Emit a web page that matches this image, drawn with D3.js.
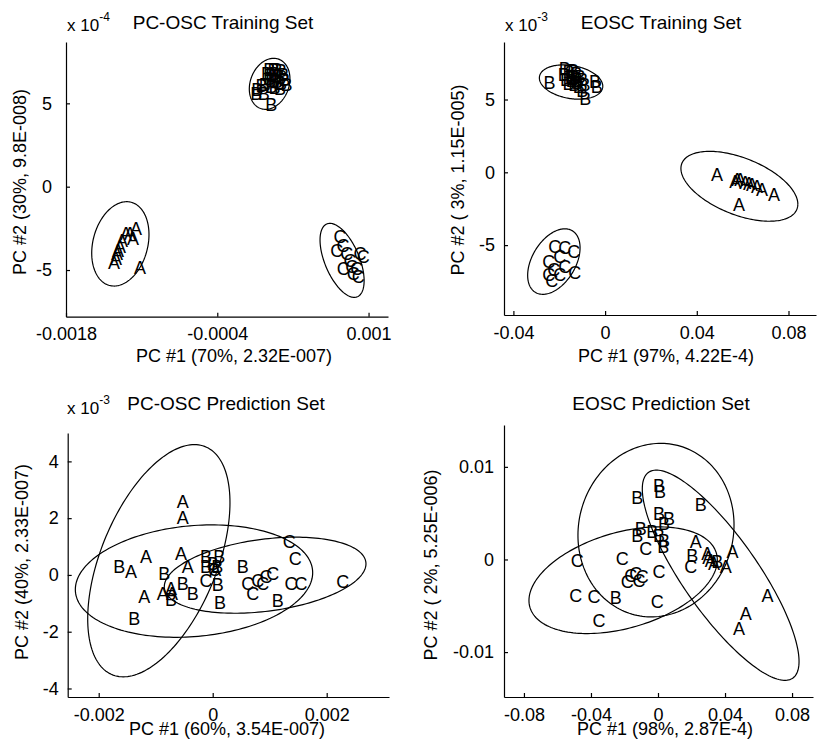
<!DOCTYPE html>
<html>
<head>
<meta charset="utf-8">
<script src="https://cdnjs.cloudflare.com/ajax/libs/d3/7.8.5/d3.min.js"></script>
<style>
  body { margin: 0; background: #fff; }
  svg { display: block; font-family: "Liberation Sans", Arial, Helvetica, sans-serif; }
  .axis path, .axis line { stroke: #000; stroke-width: 1.2; }
  .axis text { font-size: 18px; fill: #000; font-family: "Liberation Sans", Arial, sans-serif; }
  .ellipse { fill: none; stroke: #000; stroke-width: 1.2; }
  .mark { font-size: 18px; fill: #000; }
  .title { font-size: 19px; fill: #000; }
  .label { font-size: 18px; fill: #000; }
</style>
</head>
<body>
<div class="container"></div>
<script>
const WIDTH = 817,
      HEIGHT = 750;

// ---- PC-OSC training set (y shown as x 10^-4)
var pcTrainA = [[-0.001152,-2.48],[-0.001208,-2.78],[-0.001245,-2.78],[-0.00118,-3.08],[-0.001282,-3.2],
  [-0.0013,-3.56],[-0.001319,-3.8],[-0.001328,-3.98],[-0.001337,-4.28],[-0.001356,-4.52],[-0.001115,-4.82]];
var pcTrainB = [[0.00008,7.05],[0.00012,7.05],[0.00015,7.0],[0.00019,6.95],[0.00006,6.8],[0.0001,6.75],
  [0.00013,6.8],[0.00017,6.65],[0.00021,6.7],[0.00022,6.4],[0.00008,6.5],[0.00012,6.35],[0.00015,6.3],
  [0.00019,6.2],[0.00004,6.1],[0.0001,6.0],[0.00013,5.95],[0.00018,5.9],[-0.00003,5.8],[0.00001,6.05],
  [0.00003,5.6],[-0.00004,5.6],[0.0001,4.95],[0.00024,6.15]];
var pcTrainC = [[0.000736,-3.0],[0.000705,-3.8],[0.000764,-3.5],[0.000798,-4.0],[0.000921,-4.0],[0.000828,-4.4],
  [0.000766,-4.9],[0.000859,-5.2],[0.00089,-4.9],[0.000905,-5.4],[0.000844,-4.8],[0.000952,-4.2]];
var pcTrainEllipses = [
  {cx: -0.001297, cy: -3.43, rx: 0.000265, ry: 2.53, rho: 0.22},
  {cx: 0.0000845, cy: 6.17, rx: 0.000188, ry: 1.53, rho: 0.2},
  {cx: 0.000755, cy: -4.42, rx: 0.000204, ry: 2.22, rho: -0.55}
];
var pcTrainXLim = [-0.0018, 0.00118], pcTrainYLim = [-7.8, 8.68];
var pcTrainXTicks = [-0.0018, -0.0004, 0.001], pcTrainXLabels = ['-0.0018', '-0.0004', '0.001'];
var pcTrainYTicks = [-5, 0, 5], pcTrainYLabels = ['-5', '0', '5'];

// ---- EOSC training set (y shown as x 10^-3)
var eoscTrainA = [[0.0488,-0.16],[0.0568,-0.64],[0.059,-0.5],[0.0611,-0.71],[0.0641,-0.84],[0.0663,-0.98],
  [0.0685,-1.16],[0.0737,-1.53],[0.0584,-2.21],[0.0576,-0.5],[0.0628,-0.77]];
var eoscTrainB = [[-0.0242,6.2],[-0.0176,7.15],[-0.016,6.9],[-0.014,7.0],[-0.0125,6.8],[-0.015,6.6],[-0.013,6.5],
  [-0.011,6.6],[-0.017,6.4],[-0.0145,6.3],[-0.012,6.2],[-0.01,6.35],[-0.016,6.1],[-0.0135,6.0],[-0.0115,5.9],
  [-0.009,6.0],[-0.0044,6.23],[-0.0036,5.89],[-0.0087,5.1],[-0.01,5.6],[-0.018,6.7]];
var eoscTrainC = [[-0.022,-5.09],[-0.0176,-5.16],[-0.0137,-5.43],[-0.0246,-6.1],[-0.0198,-5.77],[-0.0176,-6.46],
  [-0.0132,-6.87],[-0.0198,-6.99],[-0.0246,-6.99],[-0.0224,-6.66],[-0.0233,-7.42]];
var eoscTrainEllipses = [
  {cx: 0.05858, cy: -0.96, rx: 0.0255, ry: 2.4, rho: -0.51},
  {cx: -0.01484, cy: 6.2, rx: 0.01383, ry: 1.18, rho: -0.24},
  {cx: -0.02235, cy: -6.13, rx: 0.01143, ry: 2.25, rho: 0.42}
];
var eoscTrainXLim = [-0.0441, 0.092], eoscTrainYLim = [-9.8, 8.95];
var eoscTrainXTicks = [-0.04, 0, 0.04, 0.08], eoscTrainXLabels = ['-0.04', '0', '0.04', '0.08'];
var eoscTrainYTicks = [-5, 0, 5], eoscTrainYLabels = ['-5', '0', '5'];

// ---- PC-OSC prediction set (y shown as x 10^-3)
var pcPredA = [[-0.000526,2.59],[-0.000526,2.04],[-0.00117,0.65],[-0.000556,0.77],[-0.001433,0.12],
  [-0.000438,0.29],[-0.0012,-0.77],[-0.000877,-0.65],[-0.000731,-0.47],[-0.000714,-0.65],[0.000046,0.18]];
var pcPredB = [[-0.001638,0.29],[-0.000849,0.06],[-0.000526,-0.29],[-0.000351,-0.65],[-0.000731,-0.88],
  [-0.001375,-1.53],[-0.000118,0.65],[0.000116,0.65],[-0.000118,0.29],[0,0.41],[0.000088,-0.35],
  [0.000128,-0.98],[0.000526,0.29],[0.00114,-0.91],[0.00008,0.3]];
var pcPredC = [[-0.000118,-0.18],[0.000028,0.18],[0.000614,-0.29],[0.000702,-0.65],[0.00079,-0.18],
  [0.000877,-0.29],[0.000935,-0.06],[0.001052,0.06],[0.001344,1.18],[0.001449,0.59],[0.001373,-0.32],
  [0.001549,-0.32],[0.00228,-0.24]];
var pcPredEllipses = [
  {cx: -0.000945, cy: 0.5, rx: 0.001248, ry: 4.09, rho: 0.5},
  {cx: -0.000328, cy: -0.217, rx: 0.002082, ry: 1.98, rho: 0.15},
  {cx: 0.00092, cy: -0.01, rx: 0.001769, ry: 1.34, rho: 0.3}
];
var pcPredXLim = [-0.002544, 0.003093], pcPredYLim = [-4.3, 5.0];
var pcPredXTicks = [-0.002, 0, 0.002], pcPredXLabels = ['-0.002', '0', '0.002'];
var pcPredYTicks = [-4, -2, 0, 2, 4], pcPredYLabels = ['-4', '-2', '0', '2', '4'];

// ---- EOSC prediction set
var eoscPredA = [[0.0225,0.0019],[0.0294,0.00065],[0.0315,-0.00008],[0.0334,-0.00043],[0.0404,-0.0008],
  [0.0444,0.00082],[0.0653,-0.00386],[0.0524,-0.00584],[0.0484,-0.00746],[0.03,0.0002]];
var eoscPredB = [[0.0006,0.00803],[0.0012,0.00731],[-0.01236,0.00666],[0.0255,0.00595],[0.0006,0.00497],
  [0.0066,0.00443],[0.0036,0.00389],[-0.0103,0.00335],[-0.0124,0.00263],[-0.0034,0.00298],[0.0006,0.00263],
  [0.0036,0.00209],[0.0032,0.00136],[0.0205,0.00046],[-0.02525,-0.00415],[0.0354,-0.00026]];
var eoscPredC = [[-0.0482,-0.00008],[-0.0213,0.0001],[-0.0073,0.00119],[-0.0133,-0.00151],[-0.0113,-0.00224],
  [-0.0183,-0.00242],[-0.0163,-0.0017],[0.0006,-0.00134],[0.0195,-0.0008],[-0.0491,-0.00386],
  [-0.0382,-0.00404],[-0.0352,-0.00656],[-0.0004,-0.00458],[-0.0094,-0.00188]];
var eoscPredEllipses = [
  {cx: 0.0374, cy: -0.0017, rx: 0.04677, ry: 0.01135, rho: -0.82},
  {cx: -0.0012, cy: 0.00317, rx: 0.04657, ry: 0.00937, rho: 0.06},
  {cx: -0.0208, cy: -0.00224, rx: 0.0562, ry: 0.00576, rho: 0.38}
];
var eoscPredXLim = [-0.0919, 0.0925], eoscPredYLim = [-0.01485, 0.01452];
var eoscPredXTicks = [-0.08, -0.04, 0, 0.04, 0.08], eoscPredXLabels = ['-0.08', '-0.04', '0', '0.04', '0.08'];
var eoscPredYTicks = [-0.01, 0, 0.01], eoscPredYLabels = ['-0.01', '0', '0.01'];

var panels = [
  { title: 'PC-OSC Training Set', exp: '-4', xlabel: 'PC #1 (70%, 2.32E-007)', ylabel: 'PC #2 (30%, 9.8E-008)',
    A: pcTrainA, B: pcTrainB, C: pcTrainC, ellipses: pcTrainEllipses,
    xLim: pcTrainXLim, yLim: pcTrainYLim, xTicks: pcTrainXTicks, xLabels: pcTrainXLabels, yTicks: pcTrainYTicks, yLabels: pcTrainYLabels,
    box: [66, 388, 42, 316.7], titleX: 223, titleY: 29, expX: 67, expY: 31, xlabX: 234, xlabY: 362, ylabX: 26, ylabY: 182, yPad: 14 },
  { title: 'EOSC Training Set', exp: '-3', xlabel: 'PC #1 (97%, 4.22E-4)', ylabel: 'PC #2 ( 3%, 1.15E-005)',
    A: eoscTrainA, B: eoscTrainB, C: eoscTrainC, ellipses: eoscTrainEllipses,
    xLim: eoscTrainXLim, yLim: eoscTrainYLim, xTicks: eoscTrainXTicks, xLabels: eoscTrainXLabels, yTicks: eoscTrainYTicks, yLabels: eoscTrainYLabels,
    box: [504, 816, 42, 315], titleX: 661, titleY: 29, expX: 505, expY: 31, xlabX: 666, xlabY: 362, ylabX: 464, ylabY: 180, yPad: 9 },
  { title: 'PC-OSC Prediction Set', exp: '-3', xlabel: 'PC #1 (60%, 3.54E-007)', ylabel: 'PC #2 (40%, 2.33E-007)',
    A: pcPredA, B: pcPredB, C: pcPredC, ellipses: pcPredEllipses,
    xLim: pcPredXLim, yLim: pcPredYLim, xTicks: pcPredXTicks, xLabels: pcPredXLabels, yTicks: pcPredYTicks, yLabels: pcPredYLabels,
    box: [67.7, 389, 433, 697], titleX: 226, titleY: 410, expX: 67, expY: 414, xlabX: 227, xlabY: 735, ylabX: 28, ylabY: 562, yPad: 9 },
  { title: 'EOSC Prediction Set', exp: null, xlabel: 'PC #1 (98%, 2.87E-4)', ylabel: 'PC #2 ( 2%, 5.25E-006)',
    A: eoscPredA, B: eoscPredB, C: eoscPredC, ellipses: eoscPredEllipses,
    xLim: eoscPredXLim, yLim: eoscPredYLim, xTicks: eoscPredXTicks, xLabels: eoscPredXLabels, yTicks: eoscPredYTicks, yLabels: eoscPredYLabels,
    box: [504, 813, 425, 697], titleX: 661, titleY: 410, expX: 0, expY: 0, xlabX: 665, xlabY: 735, ylabX: 437, ylabY: 565, yPad: 10 }
];

var svg = d3.select('.container').append('svg').attr('width', WIDTH).attr('height', HEIGHT);

panels.forEach(function(p) {
  var x = d3.scaleLinear().domain(p.xLim).range([p.box[0], p.box[1]]);
  var y = d3.scaleLinear().domain(p.yLim).range([p.box[3], p.box[2]]);
  var g = svg.append('g');

  // confidence ellipses
  var line = d3.line().x(function(d) { return x(d[0]); }).y(function(d) { return y(d[1]); });
  p.ellipses.forEach(function(e) {
    var pts = d3.range(0, 181).map(function(i) {
      var t = i / 180 * 2 * Math.PI;
      return [e.cx + e.rx * Math.cos(t),
              e.cy + e.ry * (e.rho * Math.cos(t) + Math.sqrt(1 - e.rho * e.rho) * Math.sin(t))];
    });
    g.append('path').attr('class', 'ellipse').attr('d', line(pts));
  });

  // samples drawn as class letters
  ['A', 'B', 'C'].forEach(function(cls) {
    g.selectAll(null).data(p[cls]).enter().append('text')
      .attr('class', 'mark')
      .attr('x', function(d) { return x(d[0]); })
      .attr('y', function(d) { return y(d[1]); })
      .attr('dy', '0.36em')
      .attr('text-anchor', 'middle')
      .text(cls);
  });

  var xAxis = d3.axisBottom(x).tickValues(p.xTicks).tickSizeInner(-4).tickSizeOuter(0).tickPadding(11)
    .tickFormat(function(d, i) { return p.xLabels[i]; });
  var yAxis = d3.axisLeft(y).tickValues(p.yTicks).tickSizeInner(-4).tickSizeOuter(0).tickPadding(p.yPad)
    .tickFormat(function(d, i) { return p.yLabels[i]; });
  g.append('g').attr('class', 'axis').attr('transform', 'translate(0,' + p.box[3] + ')').call(xAxis);
  g.append('g').attr('class', 'axis').attr('transform', 'translate(' + p.box[0] + ',0)').call(yAxis);
  g.selectAll('.axis text').attr('font-size', null).attr('font-family', null);

  g.append('text').attr('class', 'title').attr('x', p.titleX).attr('y', p.titleY)
    .attr('text-anchor', 'middle').text(p.title);
  if (p.exp) {
    var m = g.append('text').attr('x', p.expX).attr('y', p.expY).style('font-size', '17px');
    m.append('tspan').text('x 10');
    m.append('tspan').attr('dy', -10).style('font-size', '12px').text(p.exp);
  }
  g.append('text').attr('class', 'label').attr('x', p.xlabX).attr('y', p.xlabY)
    .attr('text-anchor', 'middle').text(p.xlabel);
  g.append('text').attr('class', 'label').attr('text-anchor', 'middle')
    .attr('transform', 'translate(' + p.ylabX + ',' + p.ylabY + ') rotate(-90)').text(p.ylabel);
});
</script>
</body>
</html>
